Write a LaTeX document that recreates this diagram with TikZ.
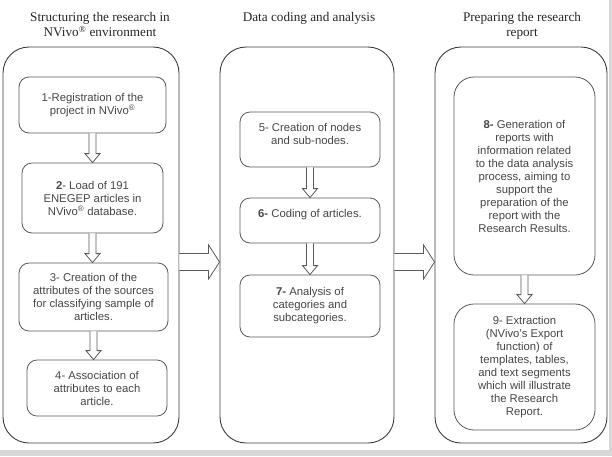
\documentclass[tikz,border=0pt]{standalone}
\usepackage{fontspec}
\setmainfont{Liberation Serif}
\newfontfamily\boxfont{Liberation Sans}
\definecolor{frame-gray}{RGB}{60,60,60}
\definecolor{box-gray}{RGB}{90,90,90}
\definecolor{text-gray}{RGB}{70,70,70}
\definecolor{edge-gray}{RGB}{215,215,215}
\usetikzlibrary{positioning,calc}

% hollow block arrow from the bottom of #1 down to the top of #2
\newcommand{\downflow}[2]{%
  \coordinate (tip) at (#1.south |- #2.north);
  \draw[flow] ($(#1.south)+(-3.5,0)$) -- ($(tip)+(-3.5,-9)$) -- ($(tip)+(-7.5,-9)$)
    -- (tip) -- ($(tip)+(7.5,-9)$) -- ($(tip)+(3.5,-9)$) -- ($(#1.south)+(3.5,0)$);}
% hollow block arrow from panel #1 to panel #2
\newcommand{\rightflow}[2]{%
  \coordinate (s) at ([yshift=-17pt]#1.east);
  \coordinate (e) at (s -| #2.west);
  \draw[flow] ($(s)+(0,-8.5)$) -- ($(e)+(-11,-8.5)$) -- ($(e)+(-11,-17)$)
    -- (e) -- ($(e)+(-11,17)$) -- ($(e)+(-11,8.5)$) -- ($(s)+(0,8.5)$);}

\begin{document}
\begin{tikzpicture}[x=1pt,y=-1pt,
    panel/.style={draw=frame-gray, line width=0.9pt, rounded corners=26pt,
      minimum width=#1, minimum height=396pt, inner sep=0pt},
    stepbox/.style={draw=box-gray, line width=0.8pt, rounded corners=10pt,
      align=center, text=text-gray, inner sep=0pt,
      font=\boxfont\fontsize{11.3}{13}\selectfont},
    bigbox/.style={stepbox, rounded corners=20pt},
    title/.style={align=center, inner sep=0pt, anchor=north, text=black!85,
      font=\fontsize{13.2}{15}\selectfont},
    flow/.style={draw=box-gray, line width=0.8pt, fill=white}]
    \useasboundingbox (0,0) rectangle (612,456);
    \fill[edge-gray] (0,0) rectangle (612,456);
    \fill[white] (0,0) rectangle (609,450);

    % titles
    \node[title] (t1) at (100,12) {Structuring the research in\\NVivo\textsuperscript{®} environment};
    \node[title] (t2) at (309,12) {Data coding and analysis};
    \node[title] (t3) at (522,12) {Preparing the research\\report};

    % panels
    \node[panel=176pt] (p1) at (91,245) {};
    \node[panel=174pt] (p2) at (307,245) {};
    \node[panel=172pt] (p3) at (521,245) {};

    % steps of the first panel
    \node[stepbox, minimum width=147pt, minimum height=56pt] (b1) at (92.5,105)
      {1-Registration of the\\project in NVivo\textsuperscript{®}};
    \node[stepbox, minimum width=141pt, minimum height=70pt] (b2) at (92.5,198)
      {\textbf{2}- Load of 191\\ENEGEP articles in\\NVivo\textsuperscript{®} database.};
    \node[stepbox, minimum width=149pt, minimum height=68pt] (b3) at (93.5,297)
      {3- Creation of the\\attributes of the sources\\for classifying sample of\\articles.};
    \node[stepbox, minimum width=140pt, minimum height=56pt] (b4) at (97,388)
      {4- Association of\\attributes to each\\article.};

    % steps of the second panel
    \node[stepbox, minimum width=140pt, minimum height=55pt, text depth=12pt] (b5) at (310,139.5)
      {5- Creation of nodes\\and sub-nodes.};
    \node[stepbox, minimum width=140pt, minimum height=45pt, text depth=15pt] (b6) at (310,220.5)
      {\textbf{6-} Coding of articles.};
    \node[stepbox, minimum width=140pt, minimum height=62pt] (b7) at (310,306)
      {\textbf{7-} Analysis of\\categories and\\subcategories.};

    % steps of the third panel
    \node[bigbox, minimum width=141pt, minimum height=198pt] (b8) at (524.5,176)
      {\textbf{8-} Generation of\\reports with\\information related\\to the data analysis\\process, aiming to\\support the\\preparation of the\\report with the\\Research Results.};
    \node[bigbox, minimum width=141pt, minimum height=126pt] (b9) at (524.5,367)
      {9- Extraction\\(NVivo’s Export\\function) of\\templates, tables,\\and text segments\\which will illustrate\\the Research\\Report.};

    % arrows
    \downflow{b1}{b2}
    \downflow{b2}{b3}
    \downflow{b3}{b4}
    \downflow{b5}{b6}
    \downflow{b6}{b7}
    \downflow{b8}{b9}
    \rightflow{p1}{p2}
    \rightflow{p2}{p3}
\end{tikzpicture}
\end{document}
